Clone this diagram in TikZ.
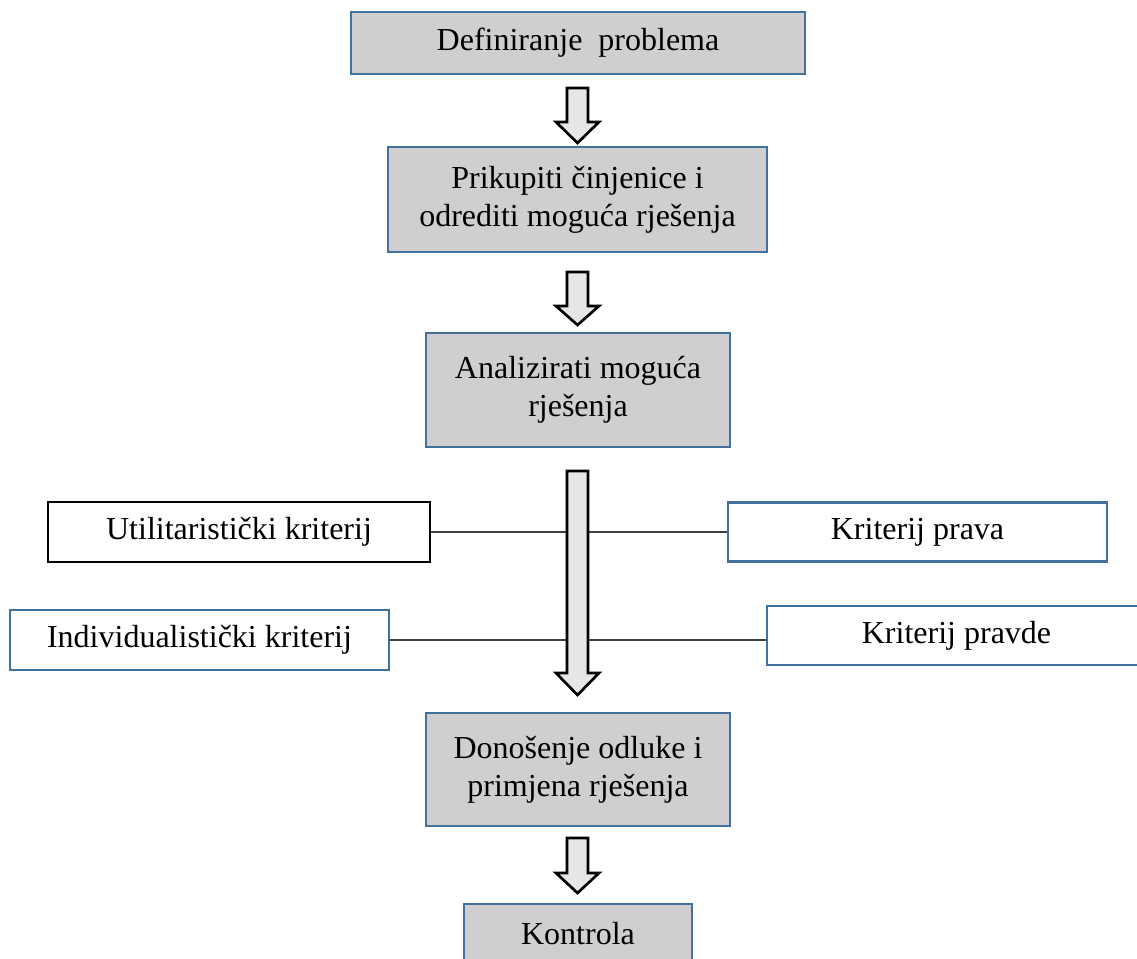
\documentclass[tikz,border=0pt]{standalone}
\usepackage{fontspec}
\setmainfont{Liberation Serif}
\definecolor{boxgray}{HTML}{D0CECE}
\definecolor{boxblue}{HTML}{41719C}
\definecolor{arrowgray}{HTML}{E7E6E6}
\definecolor{linegray}{HTML}{404040}
\tikzset{
  mainbox/.style={draw=boxblue, fill=boxgray, line width=1.8pt, inner sep=0pt, align=center,
    font=\fontsize{24pt}{28.5pt}\selectfont},
  critbox/.style={draw=boxblue, fill=white, line width=1.8pt, inner sep=0pt, align=center,
    font=\fontsize{24pt}{28.5pt}\selectfont},
  blockarrow/.style={draw=black, fill=arrowgray, line width=2pt, line join=miter},
  link/.style={draw=linegray, line width=1pt}
}
\begin{document}
\begin{tikzpicture}[x=0.75pt,y=-0.75pt]
\useasboundingbox (0,0) rectangle (1137,958);
\clip (0,0) rectangle (1137,958);

% main flow boxes
\node[mainbox, minimum width=340.5pt, minimum height=46.5pt] (b1) at (578,43) {Definiranje\ \ problema};
\node[mainbox, minimum width=284.25pt, minimum height=78.75pt] (b2) at (577.5,199.5) {Prikupiti činjenice i\\odrediti moguća rješenja};
\node[mainbox, minimum width=228pt, minimum height=85.5pt] (b3) at (578,390) {Analizirati moguća\\rješenja};
\node[mainbox, minimum width=228pt, minimum height=84.75pt] (b5) at (578,769.5) {Donošenje odluke i\\primjena rješenja};
\node[mainbox, minimum width=171pt, minimum height=45pt] (b6) at (578,934) {Kontrola};

% criteria boxes
\node[critbox, draw=black, minimum width=286.5pt, minimum height=45pt] (util) at (239,532) {Utilitaristički kriterij};
\node[critbox, minimum width=284.25pt, minimum height=44.25pt] (prava) at (917.5,532) {Kriterij prava};
\node[critbox, minimum width=284.25pt, minimum height=45pt] (indiv) at (199.5,640) {Individualistički kriterij};
\node[critbox, minimum width=284.25pt, minimum height=44.25pt] (pravde) at (956.5,635.5) {Kriterij pravde};

% connecting lines
\draw[link] (util.east) -- (prava.west);
\draw[link] (indiv.east) -- (indiv.east -| pravde.west);

% block arrows
\draw[blockarrow] (567,88) -- (588,88) -- (588,122) -- (599,122) -- (577.5,143) -- (556,122) -- (567,122) -- cycle;
\draw[blockarrow] (567,272) -- (588,272) -- (588,306) -- (599,306) -- (577.5,325) -- (556,306) -- (567,306) -- cycle;
\draw[blockarrow] (567,471) -- (588,471) -- (588,673) -- (599,673) -- (577.5,695) -- (556,673) -- (567,673) -- cycle;
\draw[blockarrow] (567,838) -- (588,838) -- (588,873) -- (599,873) -- (577.5,893) -- (556,873) -- (567,873) -- cycle;
\end{tikzpicture}
\end{document}
